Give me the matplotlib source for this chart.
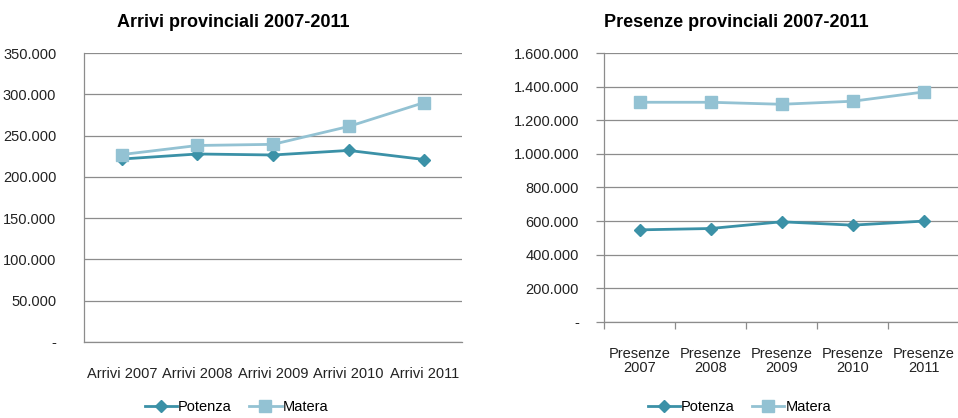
import matplotlib
matplotlib.use("Agg")
import matplotlib.pyplot as plt
from matplotlib.ticker import FuncFormatter, FixedLocator
from matplotlib import font_manager

plt.rcParams['font.family'] = ['Liberation Sans', 'DejaVu Sans']

# testo degli assi in carattere stretto, se disponibile
nomi = {f.name for f in font_manager.fontManager.ttflist}
stretto = 'Liberation Sans Narrow' if 'Liberation Sans Narrow' in nomi else 'Liberation Sans'
dim = 12 if stretto == 'Liberation Sans Narrow' else 10.5

anni = ["2007", "2008", "2009", "2010", "2011"]
etichette_arrivi = ["Arrivi " + a for a in anni]
etichette_presenze = ["Presenze\n" + a for a in anni]

arrivi_potenza = [221600, 227700, 226500, 232000, 221000]
arrivi_matera = [227000, 238000, 239400, 261000, 290000]

presenze_potenza = [548000, 556000, 596000, 576000, 600000]
presenze_matera = [1307000, 1307000, 1295000, 1313000, 1368000]

col_potenza = "#3b91a7"
col_matera = "#93c2d3"
grigio = "#8c8c8c"


def formato(v, pos):
    if v == 0:
        return "-"
    return f"{v:,.0f}".replace(",", ".")


def disegna(ax, pot, mat, etichette, ymax, passo, tacche):
    x = range(len(etichette))
    ax.plot(x, pot, color=col_potenza, lw=2, marker="D", ms=6.5, label="Potenza")
    ax.plot(x, mat, color=col_matera, lw=2, marker="s", ms=9, label="Matera")
    ax.set_xlim(-0.5, len(etichette) - 0.5)
    ax.set_ylim(0, ymax)
    ax.set_yticks(range(0, ymax + 1, passo))
    ax.yaxis.set_major_formatter(FuncFormatter(formato))
    ax.set_xticks(list(x))
    ax.set_xticklabels(etichette, fontsize=dim, family=stretto, color="#222222",
                       linespacing=1.0)
    for t in ax.get_yticklabels():
        t.set_family(stretto)
    ax.grid(axis="y", color=grigio, lw=0.9)
    ax.set_axisbelow(True)
    for s in ["top", "right"]:
        ax.spines[s].set_visible(False)
    for s in ["left", "bottom"]:
        ax.spines[s].set_color(grigio)
        ax.spines[s].set_linewidth(0.9)
    ax.tick_params(axis="x", length=0, pad=18)
    if tacche:
        ax.xaxis.set_minor_locator(FixedLocator([i - 0.5 for i in range(len(etichette) + 1)]))
        ax.tick_params(axis="x", which="minor", length=5, color=grigio, width=0.9)
        ax.tick_params(axis="y", length=6, color=grigio, width=0.9, pad=12,
                       labelsize=dim, labelcolor="#222222")
    else:
        ax.tick_params(axis="y", length=0, pad=20, labelsize=dim, labelcolor="#222222")
    for t in ax.get_yticklabels():
        t.set_family(stretto)


fig = plt.figure(figsize=(9.58, 4.18), dpi=100)
ax1 = fig.add_axes([0.0877, 0.1818, 0.3946, 0.6914])
ax2 = fig.add_axes([0.6305, 0.2297, 0.3706, 0.6435])

disegna(ax1, arrivi_potenza, arrivi_matera, etichette_arrivi, 350000, 50000, False)
disegna(ax2, presenze_potenza, presenze_matera, etichette_presenze, 1600000, 200000, True)

fig.text(0.243, 0.947, "Arrivi provinciali 2007-2011", ha="center", va="center",
         fontsize=13, fontweight="bold")
fig.text(0.769, 0.947, "Presenze provinciali 2007-2011", ha="center", va="center",
         fontsize=13, fontweight="bold")

for ax, cx in [(ax1, 0.247), (ax2, 0.772)]:
    h, l = ax.get_legend_handles_labels()
    fig.legend(h, l, loc="center", bbox_to_anchor=(cx, 0.026), ncol=2, frameon=False,
               prop={"family": stretto, "size": dim}, handlelength=2.2,
               columnspacing=1.2, handletextpad=0.1, borderpad=0)

fig.savefig("out.png", dpi=100)
